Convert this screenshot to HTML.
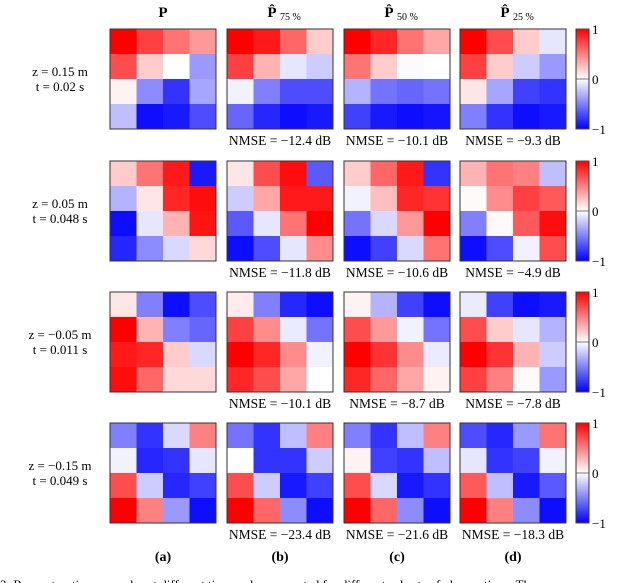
<!DOCTYPE html>
<html><head><meta charset="utf-8"><style>
body{margin:0;background:#fff;}
svg{display:block;font-family:"Liberation Serif",serif;}
</style></head><body>
<svg id="fig" width="640" height="583" viewBox="0 0 640 583" xmlns="http://www.w3.org/2000/svg"></svg>
<script>
const colTitles = ["P", "P̂", "P̂", "P̂"];
const colSubs = ["", "75 %", "50 %", "25 %"];
const rowZ = ["z = 0.15 m", "z = 0.05 m", "z = −0.05 m", "z = −0.15 m"];
const rowT = ["t = 0.02 s", "t = 0.048 s", "t = 0.011 s", "t = 0.049 s"];
const nmse = [["−12.4", "−10.1", "−9.3"], ["−11.8", "−10.6", "−4.9"], ["−10.1", "−8.7", "−7.8"], ["−23.4", "−21.6", "−18.3"]];
const colLabels = ["(a)", "(b)", "(c)", "(d)"];
const cbTicks = [1, 0, -1];
const row0 = [
 [[1,.75,.55,.4],[.7,.2,0,-.4],[.05,-.45,-.8,-.35],[-.25,-.95,-.9,-.7]],
 [[1,.9,.6,.2],[.75,.3,-.1,-.2],[-.05,-.5,-.7,-.7],[-.6,-.85,-.95,-.9]],
 [[1,.85,.55,.35],[.55,.2,-.02,0],[-.3,-.55,-.6,-.55],[-.75,-.9,-.95,-.92]],
 [[1,.7,.2,-.1],[.75,.2,-.2,-.4],[.1,-.35,-.75,-.8],[-.5,-.8,-.95,-.9]]];
const row1 = [
 [[.2,.55,.9,-.9],[-.3,.1,.85,.95],[-.95,-.1,.3,.92],[-.85,-.45,-.15,.15]],
 [[.1,.7,.95,-.65],[-.2,.35,.9,.9],[-.65,-.1,.55,1],[-.95,-.7,-.1,.45]],
 [[.2,.6,.9,-.8],[-.05,.25,.85,.8],[-.55,-.15,.4,1],[-.95,-.75,-.15,.55]],
 [[.3,.55,.5,-.25],[.02,.45,.75,.65],[-.5,.02,.65,.95],[-.95,-.7,-.05,.7]]];
const row2 = [
 [[.1,-.5,-.95,-.7],[1,.3,-.5,-.6],[.9,.85,.2,-.15],[.95,.6,.15,.15]],
 [[.08,-.5,-.85,-.95],[.75,.45,-.08,-.55],[1,.85,.45,-.05],[.85,.7,.35,0]],
 [[.05,-.3,-.75,-.95],[.7,.4,-.05,-.55],[1,.8,.45,-.08],[.85,.6,.35,.05]],
 [[-.08,-.75,-.95,-.9],[.7,.2,-.1,-.3],[1,.8,.3,-.2],[.75,.5,.02,-.4]]];
const row3 = [
 [[-.5,-.8,-.15,.5],[-.05,-.85,-.8,-.1],[.7,-.2,-.85,-.75],[1,.5,-.4,-.95]],
 [[-.55,-.8,-.25,.5],[0,-.8,-.8,-.2],[.7,-.2,-.9,-.75],[1,.6,-.45,-.95]],
 [[-.5,-.8,-.25,.5],[.05,-.75,-.8,-.25],[.7,-.15,-.9,-.8],[1,.6,-.45,-.95]],
 [[-.7,-.85,-.4,.55],[-.1,-.8,-.75,-.05],[.65,-.25,-.9,-.65],[1,.5,-.45,-.95]]];
const allRows = [row0, row1, row2, row3];

const NS = "http://www.w3.org/2000/svg";
const svg = document.getElementById("fig");
const panelX = [110, 227, 344, 460];
const panelW = 106, panelH = 100;
const rowY = [29, 161, 292, 423];
const cbX = 576, cbW = 13;
function color(v){
  v = Math.max(-1, Math.min(1, v));
  if (v >= 0){ const c = Math.round(255*(1-v)); return `rgb(255,${c},${c})`; }
  const c = Math.round(255*(1+v)); return `rgb(${c},${c},255)`;
}
function mk(tag, attrs, txt){
  const e = document.createElementNS(NS, tag);
  for (const k in attrs) e.setAttribute(k, attrs[k]);
  if (txt !== undefined) e.textContent = txt;
  svg.appendChild(e);
  return e;
}
const defs = mk("defs", {});
const lg = document.createElementNS(NS, "linearGradient");
lg.setAttribute("id", "cbg"); lg.setAttribute("x1", "0"); lg.setAttribute("y1", "0"); lg.setAttribute("x2", "0"); lg.setAttribute("y2", "1");
[[0,"#ff0000"],[0.5,"#ffffff"],[1,"#0000ff"]].forEach(s=>{const st=document.createElementNS(NS,"stop");st.setAttribute("offset",s[0]);st.setAttribute("stop-color",s[1]);lg.appendChild(st);});
defs.appendChild(lg);

for (let c = 0; c < 4; c++){
  const cx = panelX[c] + panelW/2;
  const t = mk("text", {x: cx - (c ? 8 : 0), y: 17, "font-size": 15, "font-weight": "bold", "text-anchor": "middle"}, colTitles[c]);
  
  
  if (colSubs[c]){
    const s = mk("text", {x: cx, y: 20, "font-size": 10}, colSubs[c]);
    
    
  }
  const l = mk("text", {x: cx, y: 561, "font-size": 14, "font-weight": "bold", "text-anchor": "middle"}, colLabels[c]);
  
  
}

for (let r = 0; r < 4; r++){
  const y0 = rowY[r];
  const zt = mk("text", {x: 60, y: y0 + 47, "font-size": 13, "text-anchor": "middle"}, rowZ[r]);
  
  
  const tt = mk("text", {x: 60, y: y0 + 62, "font-size": 13, "text-anchor": "middle"}, rowT[r]);
  
  
  for (let c = 0; c < 4; c++){
    const m = allRows[r][c];
    const cw = panelW/4, ch = panelH/4;
    for (let i = 0; i < 4; i++) for (let j = 0; j < 4; j++){
      const rc = mk("rect", {x: panelX[c] + j*cw, y: y0 + i*ch, width: cw + 0.3, height: ch + 0.3, fill: color(m[i][j])});
      
      
    }
    const fr = mk("rect", {x: panelX[c], y: y0, width: panelW, height: panelH, fill: "none", stroke: "#333", "stroke-width": 1});
    
    
    if (c > 0){
      const nt = mk("text", {x: panelX[c] + panelW/2, y: y0 + panelH + 16, "font-size": 13.5, "text-anchor": "middle"}, "NMSE = " + nmse[r][c-1] + " dB");
      
      
    }
  }
  const cb = mk("rect", {x: cbX, y: y0, width: cbW, height: panelH, fill: "url(#cbg)", stroke: "#333", "stroke-width": 1});
  
  
  cbTicks.forEach(v=>{
    const ty = y0 + (1 - v)/2*panelH;
    const tk = mk("line", {x1: cbX, x2: cbX + cbW, y1: ty, y2: ty, stroke: "#555", "stroke-width": 0.8});
    
    
    const lb = mk("text", {x: cbX + cbW + 3, y: ty + 5, "font-size": 13}, v < 0 ? "−1" : String(v));
    
    
  });
}
const cap = mk("text", {x: 0, y: 589, "font-size": 13}, "2: Reconstruction examples at different time and ... presented for different subsets of observations. The");


</script>
</body></html>
